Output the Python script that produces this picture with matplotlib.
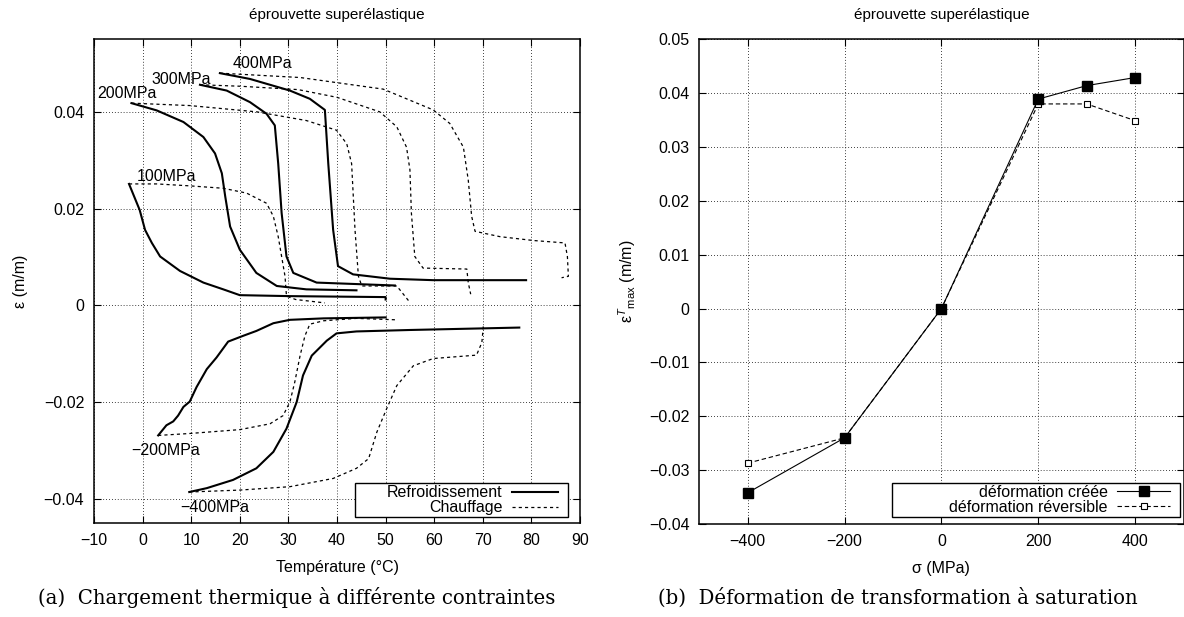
import matplotlib
matplotlib.use('Agg')
import matplotlib.pyplot as plt
from matplotlib.patches import Rectangle
import numpy as np

plt.rcParams['font.family'] = ['Liberation Sans', 'DejaVu Sans']
plt.rcParams['mathtext.fontset'] = 'custom'
plt.rcParams['mathtext.rm'] = 'Liberation Sans'
plt.rcParams['mathtext.it'] = 'Liberation Sans:italic'
plt.rcParams['font.size'] = 11.5

# ---- (a) thermal loading under constant stress: temperature (degC) / strain
t_cool_100 = [-2.8, -0.6, 0.5, 1.9, 3.6, 7.7, 12.5, 16.6, 20.0, 30.3, 50.0, 50.0]
e_cool_100 = [0.0251, 0.0197, 0.0156, 0.0129, 0.0101, 0.0071, 0.0047, 0.0033, 0.0021, 0.0019, 0.0017, 0.0012]
t_heat_100 = [-2.8, 2.9, 9.7, 16.6, 21.4, 25.5, 26.9, 27.9, 28.6, 29.3, 29.6, 31.5, 37.5]
e_heat_100 = [0.0251, 0.0251, 0.0247, 0.0242, 0.0232, 0.0211, 0.0184, 0.0142, 0.0101, 0.0060, 0.0019, 0.0012, 0.0005]

t_cool_200 = [-2.3, 2.9, 8.4, 12.5, 14.9, 16.3, 17.0, 18.0, 20.0, 23.4, 27.6, 33.7, 44.0]
e_cool_200 = [0.0418, 0.0403, 0.0379, 0.0348, 0.0314, 0.0273, 0.0225, 0.0163, 0.0115, 0.0067, 0.0040, 0.0033, 0.0031]
t_heat_200 = [-2.3, 9.7, 23.5, 33.7, 39.9, 42.0, 43.0, 43.7, 44.4, 45.1, 52.3, 55.0]
e_heat_200 = [0.0418, 0.0413, 0.0400, 0.0382, 0.0362, 0.0334, 0.0293, 0.0156, 0.0060, 0.0040, 0.0040, 0.0006]

t_cool_300 = [11.8, 17.3, 22.1, 25.5, 27.2, 27.9, 28.6, 29.6, 31.0, 35.8, 51.9]
e_cool_300 = [0.0456, 0.0444, 0.0420, 0.0396, 0.0372, 0.0293, 0.0191, 0.0101, 0.0067, 0.0047, 0.0041]
t_heat_300 = [11.8, 20.0, 32.0, 40.0, 48.8, 52.3, 54.3, 55.0, 55.3, 56.0, 57.7, 66.7, 67.0, 67.5]
e_heat_300 = [0.0456, 0.0453, 0.0446, 0.0430, 0.0400, 0.0369, 0.0327, 0.0280, 0.0191, 0.0101, 0.0077, 0.0075, 0.0047, 0.0023]

t_cool_400 = [15.9, 22.1, 30.3, 34.4, 37.5, 38.2, 39.2, 40.2, 43.3, 50.9, 59.8, 78.9]
e_cool_400 = [0.0480, 0.0468, 0.0444, 0.0427, 0.0404, 0.0293, 0.0156, 0.0081, 0.0064, 0.0055, 0.0052, 0.0052]
t_heat_400 = [15.9, 32.4, 49.5, 59.8, 63.2, 66.0, 67.0, 67.7, 68.4, 73.5, 80.4, 86.9, 87.4, 87.6, 86.2]
e_heat_400 = [0.0480, 0.0471, 0.0447, 0.0404, 0.0376, 0.0327, 0.0259, 0.0184, 0.0153, 0.0142, 0.0134, 0.0129, 0.0101, 0.0060, 0.0057]

t_cool_m200 = [3.2, 4.9, 6.3, 7.3, 8.4, 9.7, 11.1, 13.2, 15.2, 17.6, 20.7, 23.4, 26.9, 30.3, 37.2, 50.0]
e_cool_m200 = [-0.0269, -0.0248, -0.0240, -0.0228, -0.0210, -0.0199, -0.0169, -0.0132, -0.0108, -0.0075,
               -0.0063, -0.0053, -0.0037, -0.0030, -0.0027, -0.0025]
t_heat_m200 = [3.2, 9.7, 20.0, 26.2, 28.9, 30.3, 31.3, 32.4, 33.4, 34.4, 37.2, 44.0, 52.3]
e_heat_m200 = [-0.0269, -0.0265, -0.0257, -0.0245, -0.0228, -0.0200, -0.0159, -0.0104, -0.0063, -0.0039,
               -0.0032, -0.0027, -0.0030]

t_cool_m400 = [9.6, 13.2, 18.6, 23.4, 26.9, 29.6, 31.7, 33.0, 34.8, 36.5, 37.9, 39.9, 44.0, 55.0, 77.5]
e_cool_m400 = [-0.0386, -0.0378, -0.0361, -0.0337, -0.0303, -0.0255, -0.0200, -0.0145, -0.0104, -0.0087,
               -0.0073, -0.0058, -0.0054, -0.0051, -0.0046]
t_heat_m400 = [9.6, 20.0, 30.3, 39.2, 44.0, 46.5, 48.2, 50.2, 52.3, 55.7, 59.8, 68.7, 69.8, 70.1]
e_heat_m400 = [-0.0386, -0.0382, -0.0375, -0.0358, -0.0337, -0.0317, -0.0262, -0.0214, -0.0166, -0.0125,
               -0.0110, -0.0103, -0.0077, -0.0043]

# curve labels (text, temperature, strain)
curve_labels = ['400MPa', '300MPa', '200MPa', '100MPa', '\u2212200MPa', '\u2212400MPa']
label_t = [18.6, 1.9, -9.3, -1.2, -2.3, 7.7]
label_e = [0.0501, 0.0466, 0.0437, 0.0267, -0.0300, -0.0419]

# ---- (b) saturation transformation strain
sigma = [-400, -200, 0, 200, 300, 400]
eps_created = [-0.0342, -0.0240, 0.0, 0.0389, 0.0414, 0.0429]
eps_reversible = [-0.0287, -0.0240, 0.0, 0.0380, 0.0380, 0.0349]


def fmt(v):
    s = '%g' % v
    return s.replace('-', '\u2212')


def gp_style(ax):
    for sp in ax.spines.values():
        sp.set_linewidth(1.1)
    ax.tick_params(direction='in', length=5, width=0.8, top=True, right=True,
                   labelsize=11.5, pad=7)
    ax.grid(True, color='black', linestyle=(0, (1, 2.5)), linewidth=0.6)
    ax.set_axisbelow(True)


def gp_legend(ax, anchor, box, handlelength):
    # gnuplot-like key: text right-aligned, sample on the right, wide box
    leg = ax.legend(loc='center right', bbox_to_anchor=anchor, borderaxespad=0,
                    markerfirst=False, frameon=False, handlelength=handlelength,
                    labelspacing=0.0, borderpad=0.0, handletextpad=0.6, fontsize=11.5)
    x0, y0, x1, y1 = box
    ax.add_patch(Rectangle((x0, y0), x1 - x0, y1 - y0, transform=ax.transAxes,
                           facecolor='white', edgecolor='black', linewidth=1.0, zorder=4.5))
    leg.set_zorder(5)
    return leg


fig = plt.figure(figsize=(11.84, 6.17), dpi=100)
ax1 = fig.add_axes([0.0794, 0.1524, 0.4105, 0.7839])
ax2 = fig.add_axes([0.5906, 0.1507, 0.4090, 0.7856])

# ---- left plot
cool = dict(color='black', linewidth=1.5)
heat = dict(color='black', linewidth=0.9, linestyle=(0, (2.5, 2.5)))
ax1.plot(t_cool_100, e_cool_100, label='Refroidissement', **cool)
ax1.plot(t_heat_100, e_heat_100, label='Chauffage', **heat)
for tc, ec, th, eh in [(t_cool_200, e_cool_200, t_heat_200, e_heat_200),
                       (t_cool_300, e_cool_300, t_heat_300, e_heat_300),
                       (t_cool_400, e_cool_400, t_heat_400, e_heat_400),
                       (t_cool_m200, e_cool_m200, t_heat_m200, e_heat_m200),
                       (t_cool_m400, e_cool_m400, t_heat_m400, e_heat_m400)]:
    ax1.plot(tc, ec, **cool)
    ax1.plot(th, eh, **heat)

for txt, x, y in zip(curve_labels, label_t, label_e):
    ax1.text(x, y, txt, ha='left', va='center', fontsize=11.5)

ax1.set_xlim(-10, 90)
ax1.set_ylim(-0.045, 0.055)
xt = np.arange(-10, 91, 10)
ax1.set_xticks(xt)
ax1.set_xticklabels([fmt(v) for v in xt])
yt = [-0.04, -0.02, 0, 0.02, 0.04]
ax1.set_yticks(yt)
ax1.set_yticklabels([fmt(v) for v in yt])
gp_style(ax1)
ax1.set_xlabel('Température (°C)')
ax1.xaxis.label.set_va('center')
ax1.xaxis.set_label_coords(0.5, -0.093)
ax1.set_ylabel('ε (m/m)')
ax1.yaxis.label.set_va('center')
ax1.yaxis.set_label_coords(-0.152, 0.5)

gp_legend(ax1, (0.955, 0.0465), (0.537, 0.012, 0.976, 0.0826), 2.9)

# ---- right plot (created drawn above reversible)
ax2.plot(sigma, eps_created, color='black', linewidth=0.8, marker='s', markersize=7,
         markerfacecolor='black', label='déformation créée', zorder=4)
ax2.plot(sigma, eps_reversible, color='black', linewidth=0.8, linestyle=(0, (4, 2.5)),
         marker='s', markersize=5, markerfacecolor='white', markeredgewidth=0.8,
         label='déformation réversible', zorder=3)
ax2.set_xlim(-500, 500)
ax2.set_ylim(-0.04, 0.05)
xt2 = [-400, -200, 0, 200, 400]
ax2.set_xticks(xt2)
ax2.set_xticklabels([fmt(v) for v in xt2])
yt2 = np.round(np.arange(-0.04, 0.0501, 0.01), 2)
ax2.set_yticks(yt2)
ax2.set_yticklabels([fmt(v) for v in yt2])
gp_style(ax2)
ax2.set_xlabel('σ (MPa)')
ax2.xaxis.label.set_va('center')
ax2.xaxis.set_label_coords(0.5, -0.091)
ax2.set_ylabel('ε$^{T}{}_{\\mathrm{max}}$ (m/m)')
ax2.yaxis.label.set_va('center')
ax2.yaxis.set_label_coords(-0.149, 0.5)

gp_legend(ax2, (0.972, 0.0495), (0.398, 0.015, 0.993, 0.0846), 3.3)

# titles
fig.text(0.2846, 0.9757, 'éprouvette superélastique', ha='center', va='center', fontsize=11)
fig.text(0.7951, 0.9757, 'éprouvette superélastique', ha='center', va='center', fontsize=11)

# sub-figure captions
cap = dict(ha='center', va='center', fontsize=14.2, family=['DejaVu Serif'])
fig.text(0.251, 0.031, '(a)  Chargement thermique à différente contraintes', **cap)
fig.text(0.758, 0.031, '(b)  Déformation de transformation à saturation', **cap)

fig.savefig('out.png', dpi=100)
